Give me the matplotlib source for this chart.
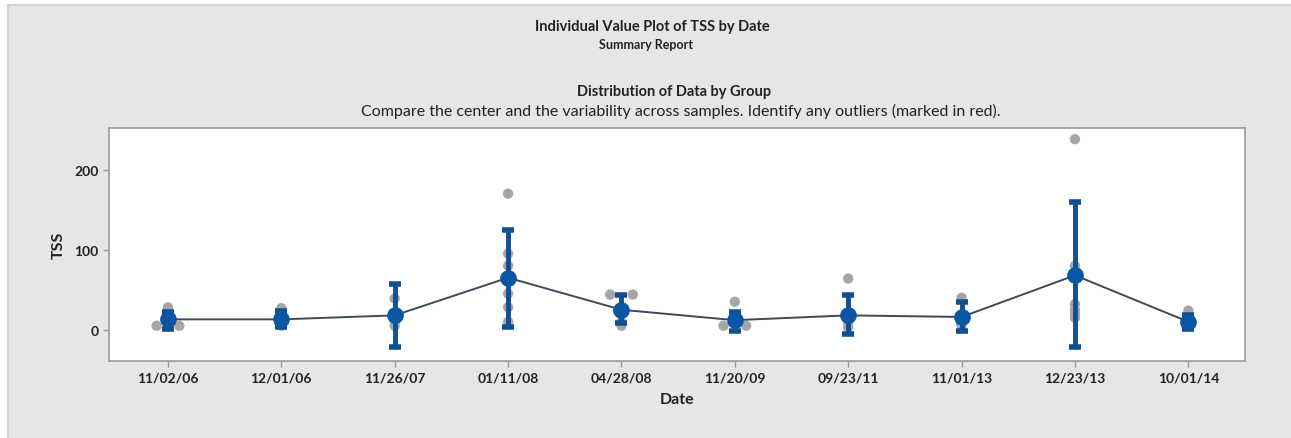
import matplotlib
matplotlib.use("Agg")
import matplotlib.pyplot as plt
from matplotlib.patches import Rectangle
import numpy as np

dates = ["11/02/06", "12/01/06", "11/26/07", "01/11/08", "04/28/08",
         "11/20/09", "09/23/11", "11/01/13", "12/23/13", "10/01/14"]
values = [
    [5, 5, 5, 9, 13, 17, 21, 28],
    [5, 8, 12, 15, 18, 27],
    [5, 10, 18, 39],
    [10, 28, 45, 60, 80, 95, 170],
    [5, 10, 44, 44],
    [5, 5, 8, 35],
    [3, 8, 12, 18, 64],
    [5, 8, 12, 15, 40],
    [15, 20, 25, 32, 80, 238],
    [4, 8, 12, 24],
]
means = [13, 13, 18, 65, 25, 12, 18, 16, 68, 10]
ci_low = [1, 4, -21, 4, 9, -1, -5, -1, -22, 1]
ci_high = [22, 24, 57, 125, 43, 22, 43, 35, 159, 18]

W, H = 1291, 439
fig = plt.figure(figsize=(W / 100, H / 100), dpi=100)
fig.patch.set_facecolor("white")
bg = Rectangle((8 / W, -0.01), 1.0, 1.01 - 6 / H, transform=fig.transFigure,
               facecolor="#e6e6e6", edgecolor="#d2d2d2", lw=1.5, zorder=-10)
fig.add_artist(bg)

FONT = ["Lato", "DejaVu Sans"]

ax = fig.add_axes([109 / W, 1 - 362 / H, (1245 - 109) / W, (362 - 129) / H])
ax.set_zorder(5)
ax.set_facecolor("white")

x = np.arange(len(dates))
# individual values, spread sideways only when values coincide
for i, vals in enumerate(values):
    vals = sorted(vals)
    clusters = []
    for v in vals:
        if clusters and abs(v - clusters[-1][-1]) < 2.5:
            clusters[-1].append(v)
        else:
            clusters.append([v])
    for cl in clusters:
        n = len(cl)
        offs = (np.arange(n) - (n - 1) / 2) * (0.2 if n == 2 else 0.1)
        ax.scatter(i + offs, cl, s=55, color="#a5a5a5", edgecolors="none", zorder=2)

ax.plot(x, means, color="#3d4a5a", lw=1.4, zorder=3)
err = [np.array(means) - np.array(ci_low), np.array(ci_high) - np.array(means)]
ax.errorbar(x, means, yerr=err, fmt="none", ecolor="#0f4f92", elinewidth=3.5,
            capsize=4.5, capthick=4, zorder=4)
ax.plot(x, means, "o", color="#0b56a4", ms=11, zorder=5)

ax.set_xlim(-0.52, 9.5)
ax.set_ylim(-39, 252)
ax.set_yticks([0, 100, 200])
ax.set_xticks(x)
ax.set_xticklabels(dates)
for s in ax.spines.values():
    s.set_color("#9a9a9a")
    s.set_linewidth(1.2)
ax.tick_params(axis="both", colors="#9a9a9a", length=4, width=1, labelcolor="#222222",
               labelsize=10)
for lab in ax.get_xticklabels() + ax.get_yticklabels():
    lab.set_family(FONT)
    lab.set_fontweight("bold")
ax.set_xlabel("Date", fontsize=11.5, family=FONT, fontweight="bold", color="#222222", labelpad=6)
ax.set_ylabel("TSS", fontsize=11.5, family=FONT, fontweight="bold", color="#222222", labelpad=6)

fig.text(652 / W, 1 - 27 / H, "Individual Value Plot of TSS by Date", ha="center", va="center",
         fontsize=10.5, family=FONT, fontweight="bold", color="#222222")
fig.text(646 / W, 1 - 45 / H, "Summary Report", ha="center", va="center",
         fontsize=9, family=FONT, fontweight="bold", color="#222222")
fig.text(674 / W, 1 - 92 / H, "Distribution of Data by Group", ha="center", va="center",
         fontsize=10.5, family=FONT, fontweight="bold", color="#222222")
fig.text(681 / W, 1 - 111 / H,
         "Compare the center and the variability across samples. Identify any outliers (marked in red).",
         ha="center", va="center", fontsize=11.5, family=FONT, color="#222222")

fig.savefig("out.png", dpi=100, facecolor=fig.get_facecolor())
